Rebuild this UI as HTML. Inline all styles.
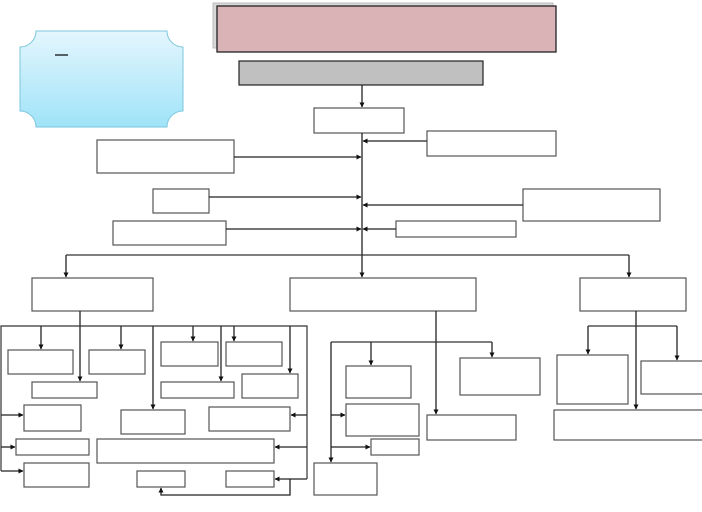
<!DOCTYPE html>
<html><head><meta charset="utf-8"><style>
html,body{margin:0;padding:0;background:#fff;width:702px;height:512px;overflow:hidden;font-family:"Liberation Sans",sans-serif}
</style></head><body>
<svg width="702" height="512" viewBox="0 0 702 512" xmlns="http://www.w3.org/2000/svg">
<defs>
<marker id="a" viewBox="0 0 10 10" refX="9" refY="5" markerWidth="4" markerHeight="4" orient="auto"><path d="M0,0L10,5L0,10z" fill="#111"/></marker>
<linearGradient id="bl" x1="0" y1="0" x2="0" y2="1"><stop offset="0" stop-color="#e4f6fd"/><stop offset="1" stop-color="#9fe3f8"/></linearGradient>
</defs>
<rect x="213" y="3" width="340" height="45" fill="#d8d8d8" stroke="#bbb"/>
<rect x="217" y="6" width="339" height="46" fill="#d9b3b5" stroke="#222" stroke-width="1.3"/>
<rect x="239" y="61" width="244" height="24" fill="#c0c0c0" stroke="#222" stroke-width="1.2"/>
<path d="M36,31 H167 A16,16 0 0 0 183,47 V111 A16,16 0 0 0 167,127 H36 A16,16 0 0 0 20,111 V47 A16,16 0 0 0 36,31Z" fill="url(#bl)" stroke="#7cc6dc"/>
<line x1="55" y1="55" x2="68" y2="55" stroke="#000" stroke-width="1.2"/>
<g fill="#fff" stroke="#555" stroke-width="1.2">
<rect x="314" y="108" width="90" height="25"/>
<rect x="427" y="131" width="129" height="25"/>
<rect x="97" y="140" width="137" height="33"/>
<rect x="153" y="189" width="56" height="24"/>
<rect x="523" y="189" width="137" height="32"/>
<rect x="113" y="221" width="113" height="24"/>
<rect x="396" y="221" width="120" height="16"/>
<rect x="32" y="278" width="121" height="33"/>
<rect x="290" y="278" width="186" height="33"/>
<rect x="580" y="278" width="106" height="33"/>
<rect x="8" y="350" width="65" height="24"/>
<rect x="89" y="350" width="56" height="24"/>
<rect x="161" y="342" width="57" height="24"/>
<rect x="226" y="342" width="56" height="24"/>
<rect x="32" y="382" width="65" height="16"/>
<rect x="161" y="382" width="73" height="16"/>
<rect x="242" y="374" width="56" height="24"/>
<rect x="24" y="405" width="57" height="26"/>
<rect x="121" y="410" width="64" height="24"/>
<rect x="209" y="407" width="81" height="24"/>
<rect x="16" y="439" width="73" height="16"/>
<rect x="97" y="439" width="177" height="24"/>
<rect x="24" y="463" width="65" height="24"/>
<rect x="137" y="471" width="48" height="16"/>
<rect x="226" y="471" width="48" height="16"/>
<rect x="346" y="366" width="65" height="32"/>
<rect x="460" y="358" width="80" height="37"/>
<rect x="346" y="404" width="73" height="32"/>
<rect x="371" y="439" width="48" height="16"/>
<rect x="427" y="415" width="89" height="25"/>
<rect x="314" y="463" width="63" height="32"/>
<rect x="557" y="355" width="71" height="49"/>
<rect x="641" y="361" width="63" height="33"/>
<rect x="554" y="410" width="150" height="30"/>
</g>
<g stroke="#222" stroke-width="1.3" fill="none" marker-end="url(#a)">
<line x1="362" y1="85" x2="362" y2="107"/>
<line x1="362" y1="133" x2="362" y2="277"/>
<line x1="427" y1="141" x2="363" y2="141"/>
<line x1="234" y1="157" x2="361" y2="157"/>
<line x1="209" y1="197" x2="361" y2="197"/>
<line x1="523" y1="205" x2="363" y2="205"/>
<line x1="226" y1="229" x2="361" y2="229"/>
<line x1="396" y1="229" x2="363" y2="229"/>
<polyline points="66,255 66,277" marker-end="url(#a)"/>
<polyline points="629,255 629,277"/>
<line x1="41" y1="326" x2="41" y2="349"/>
<line x1="121" y1="326" x2="121" y2="349"/>
<line x1="80" y1="311" x2="80" y2="381"/>
<line x1="153" y1="326" x2="153" y2="409"/>
<line x1="193" y1="326" x2="193" y2="341"/>
<line x1="221" y1="326" x2="221" y2="381"/>
<line x1="234" y1="326" x2="234" y2="341"/>
<line x1="290" y1="326" x2="290" y2="373"/>
<line x1="1" y1="415" x2="23" y2="415"/>
<line x1="1" y1="447" x2="15" y2="447"/>
<line x1="1" y1="471" x2="23" y2="471"/>
<line x1="307" y1="415" x2="291" y2="415"/>
<line x1="307" y1="447" x2="275" y2="447"/>
<line x1="307" y1="479" x2="275" y2="479"/>
<polyline points="290,479 290,495 161,495 161,488"/>
<line x1="436" y1="311" x2="436" y2="414"/>
<line x1="371" y1="342" x2="371" y2="365"/>
<line x1="492" y1="342" x2="492" y2="357"/>
<line x1="331" y1="342" x2="331" y2="462"/>
<line x1="331" y1="415" x2="345" y2="415"/>
<line x1="331" y1="447" x2="370" y2="447"/>
<line x1="636" y1="311" x2="636" y2="409"/>
<line x1="588" y1="326" x2="588" y2="354"/>
<line x1="677" y1="326" x2="677" y2="360"/>
</g>
<g stroke="#333" stroke-width="1.2" fill="none">
<line x1="66" y1="255" x2="629" y2="255"/>
<polyline points="1,471 1,326 307,326 307,479"/>
<line x1="331" y1="342" x2="492" y2="342"/>
<line x1="588" y1="326" x2="677" y2="326"/>
</g>
</svg>
</body></html>
